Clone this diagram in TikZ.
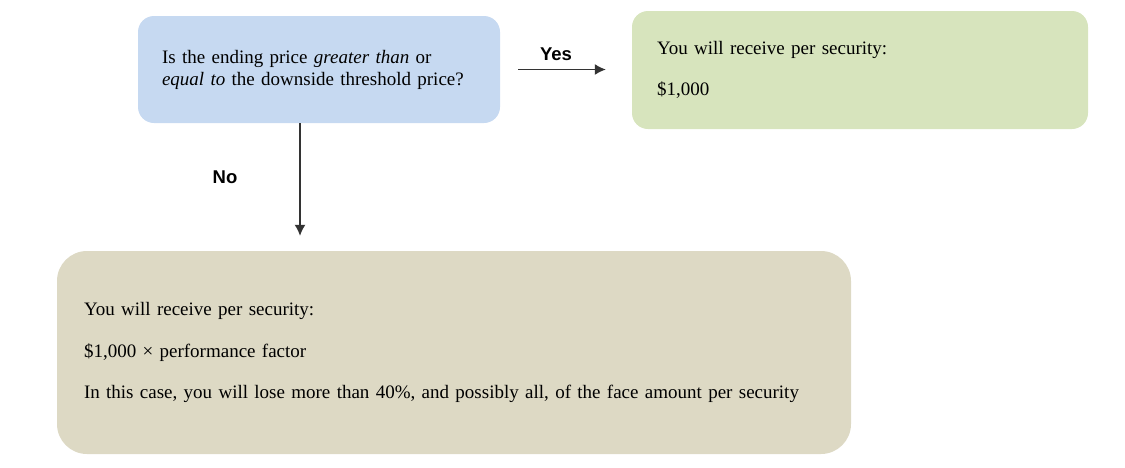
\documentclass[tikz,border=0pt]{standalone}
\usepackage{fontspec}
\setmainfont{Liberation Serif}
\newfontfamily\labelfont{Liberation Sans}
\usetikzlibrary{positioning,arrows.meta}

\definecolor{askblue}{HTML}{C6D9F1}
\definecolor{yesgreen}{HTML}{D7E4BD}
\definecolor{notan}{HTML}{DDD9C4}

\begin{document}
\begin{tikzpicture}[x=1pt,y=1pt,
  box/.style={rectangle,rounded corners=16pt,align=left,inner xsep=0pt,font=\fontsize{19}{22}\selectfont},
  answer/.style={font=\labelfont\bfseries\fontsize{18.5}{20}\selectfont},
  flow/.style={draw=black!80,line width=1.4pt,-{Latex[length=11pt,width=11pt]}}]
\useasboundingbox (0,0) rectangle (1125,-467);
\node[box,fill=askblue,minimum width=362pt,minimum height=107pt,text width=314pt] (ask) at (319,-69.5)
  {Is the ending price \emph{greater than} or\\ \emph{equal to} the downside threshold price?};
\node[box,fill=yesgreen,minimum width=456pt,minimum height=118pt,text width=406pt] (gain) at (860,-70)
  {You will receive per security:\\[19.5pt] \$1,000};
\node[box,fill=notan,rounded corners=30pt,minimum width=794pt,minimum height=203pt,text width=740pt] (loss) at (454,-352.5)
  {You will receive per security:\\[19.5pt] \$1,000 × performance factor\\[19.5pt]
   In this case, you will lose more than 40\%, and possibly all, of the face amount per security};
% yes / no branches
\draw[flow,shorten <=18pt,shorten >=26pt] (ask.east) -- (ask.east -| gain.west);
\node[answer] (yes) at (556,-54) {Yes};
\coordinate (drop) at ([xshift=-19pt]ask.south);
\draw[flow,shorten >=15pt] (drop) -- (drop |- loss.north);
\node[answer] (no) at (225,-177) {No};
\end{tikzpicture}
\end{document}
